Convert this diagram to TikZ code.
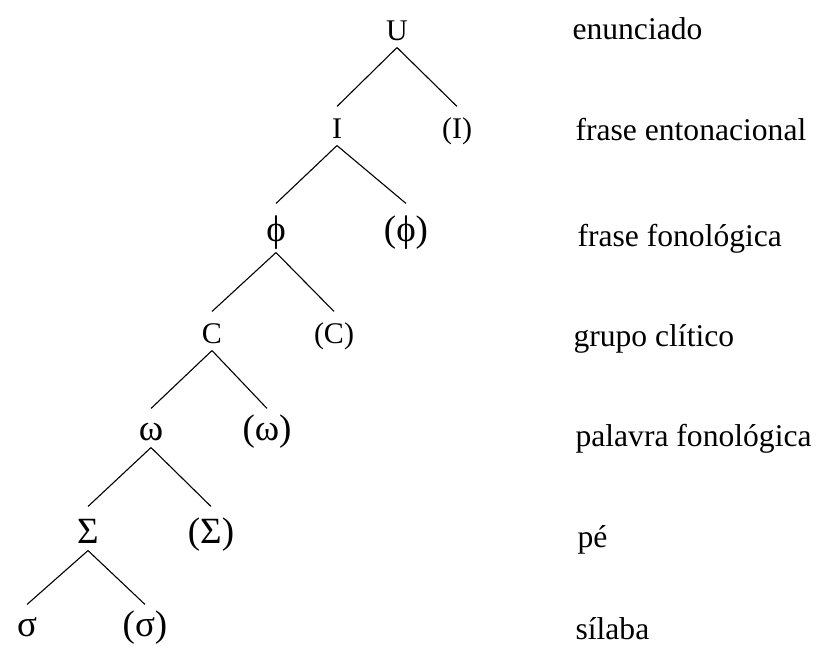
\documentclass[tikz,border=0pt]{standalone}
\usepackage{fontspec}
\setmainfont{Liberation Serif}
\usepackage{tikz}

\begin{document}
\begin{tikzpicture}[x=1pt,y=-1pt,line width=1.1pt,
        cat/.style={anchor=base,inner xsep=0pt,inner ysep=7pt,text height=24pt,text depth=0pt,font=\fontsize{30}{36}\selectfont},
        grk/.style={cat,font=\fontsize{37}{44}\selectfont},
        lvl/.style={anchor=base west,inner sep=0pt,font=\fontsize{31.6}{38}\selectfont}]
            \useasboundingbox (0,0) rectangle (816,646);

            \node[cat] (U) at (397,40) {U};
            \node[cat] (I) at (337,138) {I};
            \node[cat] (Io) at (457,138) {(I)};
            \node[grk,text height=30pt,text depth=4pt] (phi) at (276,241) {ϕ};
            \node[grk,text height=30pt,text depth=4pt] (phio) at (406,241) {(ϕ)};
            \node[cat] (C) at (212,343) {C};
            \node[cat] (Co) at (334,343) {(C)};
            \node[grk] (w) at (151,440) {ω};
            \node[grk] (wo) at (267,440) {(ω)};
            \node[grk,text height=29pt] (S) at (88,543) {Σ};
            \node[grk,text height=29pt] (So) at (211,543) {(Σ)};
            \node[grk] (s) at (27,636) {σ};
            \node[grk] (so) at (145,636) {(σ)};

            \foreach \p/\l/\r in {U/I/Io,I/phi/phio,phi/C/Co,C/w/wo,w/S/So,S/s/so}{
                \draw (\p.south) -- (\l.north);
                \draw (\p.south) -- (\r.north);
            }

            \node[lvl] (enun) at (572,39) {enunciado};
            \node[lvl] (fent) at (575,140) {frase entonacional};
            \node[lvl] (ffon) at (577,246) {frase fonológica};
            \node[lvl] (gcli) at (573,346) {grupo clítico};
            \node[lvl] (pfon) at (575,446) {palavra fonológica};
            \node[lvl] (pe) at (577,547) {pé};
            \node[lvl] (sil) at (575,639) {sílaba};
        \end{tikzpicture}
\end{document}
